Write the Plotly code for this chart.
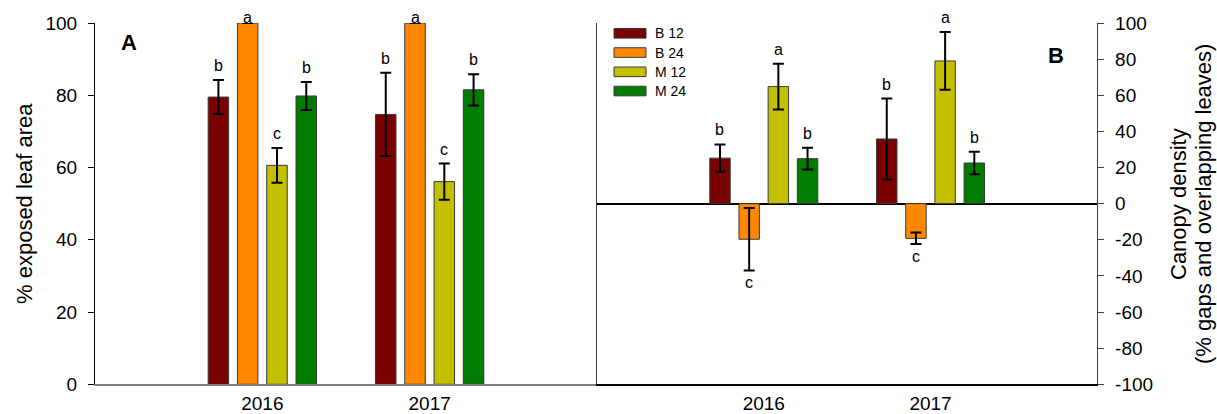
import plotly.graph_objects as go

# ---------------- data ----------------
years = ["2016", "2017"]
treatments = ["B 12", "B 24", "M 12", "M 24"]
colors = ["#7B0000", "#FF8800", "#C4C000", "#007D00"]

# Panel A: % exposed leaf area (mean, error)
exposed_mean = {
    "B 12": [79.5, 74.7],
    "B 24": [100.0, 100.0],
    "M 12": [60.6, 56.1],
    "M 24": [79.8, 81.5],
}
exposed_err = {
    "B 12": [4.7, 11.5],
    "B 24": [None, None],
    "M 12": [4.8, 5.0],
    "M 24": [3.9, 4.3],
}
exposed_letters = {
    "B 12": ["b", "b"],
    "B 24": ["a", "a"],
    "M 12": ["c", "c"],
    "M 24": ["b", "b"],
}

# Panel B: canopy density (mean, error)
density_mean = {
    "B 12": [25.2, 35.8],
    "B 24": [-19.7, -19.2],
    "M 12": [64.8, 79.0],
    "M 24": [24.9, 22.5],
}
density_err = {
    "B 12": [7.6, 22.4],
    "B 24": [17.3, 3.2],
    "M 12": [12.7, 16.0],
    "M 24": [6.0, 6.2],
}
density_letters = {
    "B 12": ["b", "b"],
    "B 24": ["c", "c"],
    "M 12": ["a", "a"],
    "M 24": ["b", "b"],
}

tickA = [0, 20, 40, 60, 80, 100]
tickB = [-100, -80, -60, -40, -20, 0, 20, 40, 60, 80, 100]

# ---------------- styling ----------------
FONT = "Arial, Liberation Sans, sans-serif"
W, H = 1217, 414
BARGAP = 0.3
BARGROUPGAP = 0.3
xpos = list(range(len(years)))
n = len(treatments)
slot = (1 - BARGAP) / n

fig = go.Figure()

for k, t in enumerate(treatments):
    fig.add_trace(go.Bar(
        x=xpos, y=exposed_mean[t], name=t, xaxis="x", yaxis="y",
        marker=dict(color=colors[k], line=dict(color="#3a3a3a", width=1)),
        error_y=dict(type="data", array=exposed_err[t], visible=True,
                     color="black", thickness=2, width=5.5),
        showlegend=False,
    ))
for k, t in enumerate(treatments):
    fig.add_trace(go.Bar(
        x=xpos, y=density_mean[t], name=t, xaxis="x2", yaxis="y2",
        marker=dict(color=colors[k], line=dict(color="#3a3a3a", width=1)),
        error_y=dict(type="data", array=density_err[t], visible=True,
                     color="black", thickness=2, width=5.5),
        showlegend=False,
    ))

annotations = []

def add_letters(means, errs, letters, xref, yref, ymax):
    for k, t in enumerate(treatments):
        off = (k - (n - 1) / 2) * slot
        for i in xpos:
            v = means[t][i]
            e = errs[t][i] or 0
            if v >= 0:
                yv = v + e
                shift = 4
                anchor = "bottom"
                if yv >= ymax:
                    yv = ymax
                    shift = -5
            else:
                yv = v - e
                shift = -2
                anchor = "top"
            annotations.append(dict(
                x=i + off, y=yv, xref=xref, yref=yref, text=letters[t][i],
                showarrow=False, yanchor=anchor, xanchor="center", yshift=shift,
                font=dict(family=FONT, size=16, color="black"),
            ))

add_letters(exposed_mean, exposed_err, exposed_letters, "x", "y", 100)
add_letters(density_mean, density_err, density_letters, "x2", "y2", 100)

# panel letters
annotations.append(dict(x=129 / W, y=1 - 42 / H, xref="paper", yref="paper", text="<b>A</b>",
                        showarrow=False, font=dict(family=FONT, size=22, color="black"),
                        xanchor="center", yanchor="middle"))
annotations.append(dict(x=1056 / W, y=1 - 55 / H, xref="paper", yref="paper", text="<b>B</b>",
                        showarrow=False, font=dict(family=FONT, size=22, color="black"),
                        xanchor="center", yanchor="middle"))

# axis titles
annotations.append(dict(x=24 / W, y=1 - 204 / H, xref="paper", yref="paper",
                        text="% exposed leaf area", textangle=-90, showarrow=False,
                        font=dict(family=FONT, size=22, color="black"),
                        xanchor="center", yanchor="middle"))
annotations.append(dict(x=1178 / W, y=1 - 204 / H, xref="paper", yref="paper",
                        text="Canopy density", textangle=-90, showarrow=False,
                        font=dict(family=FONT, size=22, color="black"),
                        xanchor="center", yanchor="middle"))
annotations.append(dict(x=1203 / W, y=1 - 204 / H, xref="paper", yref="paper",
                        text="(% gaps and overlapping leaves)", textangle=-90, showarrow=False,
                        font=dict(family=FONT, size=22, color="black"),
                        xanchor="center", yanchor="middle"))

# custom legend
shapes = []
for k, t in enumerate(treatments):
    yc = 33.3 + k * 19.25
    shapes.append(dict(type="rect", xref="paper", yref="paper",
                       x0=614 / W, x1=646 / W, y0=1 - (yc + 4.8) / H, y1=1 - (yc - 4.8) / H,
                       fillcolor=colors[k], line=dict(color="#3a3a3a", width=1)))
    annotations.append(dict(x=653 / W, y=1 - yc / H, xref="paper", yref="paper", text=t,
                            showarrow=False, xanchor="left", yanchor="middle",
                            font=dict(family=FONT, size=14, color="black")))

yd = [1 - 384.3 / H, 1 - 23 / H]

fig.update_layout(
    width=W, height=H, template="none",
    margin=dict(l=0, r=0, t=0, b=0),
    paper_bgcolor="white", plot_bgcolor="rgba(0,0,0,0)",
    barmode="group", bargap=BARGAP, bargroupgap=BARGROUPGAP,
    font=dict(family=FONT, color="black"),
    showlegend=False,
    annotations=annotations, shapes=shapes,
    xaxis=dict(domain=[95 / W, 597 / W], range=[-1, 2], anchor="y",
               tickvals=xpos, ticktext=years, ticks="", showgrid=False, zeroline=False,
               showline=True, linecolor="#808080", linewidth=1.5,
               tickfont=dict(family=FONT, size=19, color="black"),
               ticklabelstandoff=1, automargin=False),
    yaxis=dict(domain=yd, range=[0, 100], anchor="x", tickvals=tickA,
               ticktext=[str(v) for v in tickA],
               ticks="outside", ticklen=6, tickwidth=1, tickcolor="black",
               showline=True, linecolor="black", linewidth=1,
               showgrid=False, zeroline=False,
               tickfont=dict(family=FONT, size=19, color="black"),
               ticklabelstandoff=7, automargin=False),
    xaxis2=dict(domain=[597 / W, 1097.3 / W], range=[-1, 2], anchor="y2",
                tickvals=xpos, ticktext=years, ticks="", showgrid=False, zeroline=False,
                showline=True, linecolor="black", linewidth=1.5,
                tickfont=dict(family=FONT, size=19, color="black"),
                ticklabelstandoff=1, automargin=False),
    yaxis2=dict(domain=yd, range=[-100, 100], anchor="x2", side="right", tickvals=tickB,
                ticktext=[str(v) for v in tickB],
                ticks="outside", ticklen=6, tickwidth=1, tickcolor="#404040",
                showline=True, linecolor="#404040", linewidth=1, mirror=True,
                showgrid=False, zeroline=True, zerolinecolor="black", zerolinewidth=1.5,
                tickfont=dict(family=FONT, size=19, color="black"),
                ticklabelstandoff=7, automargin=False),
)

fig.write_html("out.html")
